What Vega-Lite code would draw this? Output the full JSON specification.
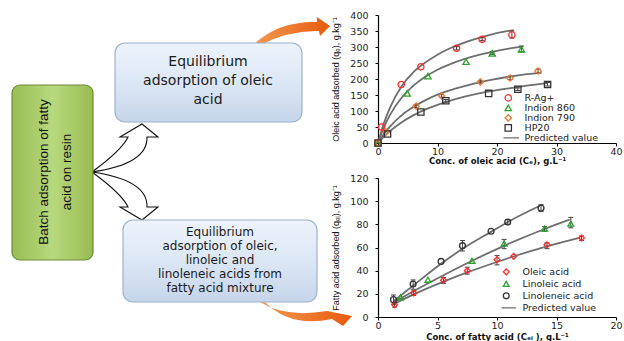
{
  "$schema": "https://vega.github.io/schema/vega-lite/v6.json",
  "background": "white",
  "padding": {"left": 0, "top": 10, "right": 0, "bottom": 0},
  "bounds": "flush",
  "spacing": 0,
  "config": {
    "view": {"stroke": null},
    "axis": {"domainColor": "#000", "domainWidth": 1.2, "tickColor": "#000", "tickSize": 3, "tickWidth": 1, "grid": false,
      "labelFont": "DejaVu Sans", "labelFontSize": 9.5, "labelColor": "#222", "labelOverlap": false,
      "titleFont": "DejaVu Sans", "titleFontSize": 8.5, "titleFontWeight": "bold", "titleColor": "#111"},
    "axisX": {"labelPadding": 0.5, "labelFlush": false},
    "axisY": {"labelPadding": 7, "titleFont": "Liberation Sans", "titleFontWeight": "normal", "titleFontSize": 9, "titlePadding": 9},
    "legend": {"labelFont": "DejaVu Sans", "labelFontSize": 9.5, "labelColor": "#222"}
  },
  "datasets": {
    "anchors": [
      {"kind": "up", "x": 253, "y": 45},
      {"kind": "down", "x": 260, "y": 302},
      {"kind": "fork", "x": 92, "y": 172}
    ],
    "boxes": [
      {"kind": "green", "x1": 12, "x2": 93, "y1": 85, "y2": 260},
      {"kind": "blue", "x1": 115, "x2": 302, "y1": 43, "y2": 122},
      {"kind": "blue", "x1": 123, "x2": 317, "y1": 220, "y2": 302}
    ],
    "texts": [
      {"id": "g", "t": "Batch adsorption of fatty\nacid on resin", "x": 44, "y": 172},
      {"id": "b1", "t": "Equilibrium\nadsorption of oleic\nacid", "x": 208, "y": 62},
      {"id": "b2", "t": "Equilibrium\nadsorption of oleic,\nlinoleic and\nlinoleneic acids from\nfatty acid mixture", "x": 220, "y": 232}
    ],
    "pts1": [
      {"s": "R-Ag+", "c": 0, "q": 0}, {"s": "R-Ag+", "c": 0.6, "q": 50}, {"s": "R-Ag+", "c": 3.9, "q": 183}, {"s": "R-Ag+", "c": 7.2, "q": 238}, {"s": "R-Ag+", "c": 13.2, "q": 296}, {"s": "R-Ag+", "c": 17.5, "q": 324}, {"s": "R-Ag+", "c": 22.5, "q": 338},
      {"s": "Indion 860", "c": 0, "q": 0}, {"s": "Indion 860", "c": 4.9, "q": 155}, {"s": "Indion 860", "c": 8.4, "q": 209}, {"s": "Indion 860", "c": 14.8, "q": 254}, {"s": "Indion 860", "c": 19.2, "q": 280}, {"s": "Indion 860", "c": 24.1, "q": 293},
      {"s": "Indion 790", "c": 0, "q": 0}, {"s": "Indion 790", "c": 1.3, "q": 34}, {"s": "Indion 790", "c": 6.4, "q": 115}, {"s": "Indion 790", "c": 10.7, "q": 147}, {"s": "Indion 790", "c": 17.2, "q": 191}, {"s": "Indion 790", "c": 22.2, "q": 203}, {"s": "Indion 790", "c": 26.9, "q": 225},
      {"s": "HP20", "c": 0, "q": 0}, {"s": "HP20", "c": 1.6, "q": 28}, {"s": "HP20", "c": 7.2, "q": 97}, {"s": "HP20", "c": 11.4, "q": 132}, {"s": "HP20", "c": 18.6, "q": 155}, {"s": "HP20", "c": 23.5, "q": 168}, {"s": "HP20", "c": 28.5, "q": 183}
    ],
    "lines1": [
      {"s": "R-Ag+", "c": 0, "q": 0}, {"s": "R-Ag+", "c": 1, "q": 62}, {"s": "R-Ag+", "c": 2, "q": 110}, {"s": "R-Ag+", "c": 4, "q": 178}, {"s": "R-Ag+", "c": 6, "q": 222}, {"s": "R-Ag+", "c": 8, "q": 252}, {"s": "R-Ag+", "c": 10, "q": 276}, {"s": "R-Ag+", "c": 13, "q": 303}, {"s": "R-Ag+", "c": 16, "q": 323}, {"s": "R-Ag+", "c": 19, "q": 339}, {"s": "R-Ag+", "c": 22.8, "q": 353},
      {"s": "Indion 860", "c": 0, "q": 0}, {"s": "Indion 860", "c": 1, "q": 49}, {"s": "Indion 860", "c": 2, "q": 87}, {"s": "Indion 860", "c": 4, "q": 142}, {"s": "Indion 860", "c": 6, "q": 180}, {"s": "Indion 860", "c": 8, "q": 208}, {"s": "Indion 860", "c": 10, "q": 229}, {"s": "Indion 860", "c": 13, "q": 253}, {"s": "Indion 860", "c": 16, "q": 271}, {"s": "Indion 860", "c": 19, "q": 284}, {"s": "Indion 860", "c": 22, "q": 295}, {"s": "Indion 860", "c": 24.4, "q": 302},
      {"s": "Indion 790", "c": 0, "q": 0}, {"s": "Indion 790", "c": 1, "q": 28}, {"s": "Indion 790", "c": 2, "q": 51}, {"s": "Indion 790", "c": 4, "q": 87}, {"s": "Indion 790", "c": 6, "q": 113}, {"s": "Indion 790", "c": 8, "q": 134}, {"s": "Indion 790", "c": 10, "q": 151}, {"s": "Indion 790", "c": 13, "q": 170}, {"s": "Indion 790", "c": 16, "q": 185}, {"s": "Indion 790", "c": 19, "q": 197}, {"s": "Indion 790", "c": 22, "q": 207}, {"s": "Indion 790", "c": 25, "q": 215}, {"s": "Indion 790", "c": 27.5, "q": 220},
      {"s": "HP20", "c": 0, "q": 0}, {"s": "HP20", "c": 1, "q": 20}, {"s": "HP20", "c": 2, "q": 37}, {"s": "HP20", "c": 4, "q": 65}, {"s": "HP20", "c": 6, "q": 87}, {"s": "HP20", "c": 8, "q": 105}, {"s": "HP20", "c": 10, "q": 119}, {"s": "HP20", "c": 13, "q": 137}, {"s": "HP20", "c": 16, "q": 151}, {"s": "HP20", "c": 19, "q": 162}, {"s": "HP20", "c": 22, "q": 171}, {"s": "HP20", "c": 25, "q": 179}, {"s": "HP20", "c": 28.5, "q": 187}
    ],
    "err1": [
      {"c": 22.5, "lo": 328, "hi": 350}, {"c": 13.2, "lo": 291, "hi": 301}, {"c": 17.5, "lo": 320, "hi": 329},
      {"c": 24.1, "lo": 285, "hi": 303}, {"c": 19.2, "lo": 276, "hi": 285},
      {"c": 26.9, "lo": 219, "hi": 231}, {"c": 22.2, "lo": 198, "hi": 208}, {"c": 17.2, "lo": 187, "hi": 195}, {"c": 10.7, "lo": 143, "hi": 152}, {"c": 6.4, "lo": 111, "hi": 120},
      {"c": 28.5, "lo": 178, "hi": 189}, {"c": 23.5, "lo": 164, "hi": 172}, {"c": 11.4, "lo": 128, "hi": 136}
    ],
    "pts2": [
      {"s": "Oleic acid", "c": 1.4, "q": 10.6}, {"s": "Oleic acid", "c": 3.0, "q": 20.7}, {"s": "Oleic acid", "c": 5.5, "q": 31.7}, {"s": "Oleic acid", "c": 7.5, "q": 40}, {"s": "Oleic acid", "c": 10.0, "q": 49.5}, {"s": "Oleic acid", "c": 11.4, "q": 52.4}, {"s": "Oleic acid", "c": 14.2, "q": 62.4}, {"s": "Oleic acid", "c": 17.1, "q": 68.2},
      {"s": "Linoleic acid", "c": 1.9, "q": 17}, {"s": "Linoleic acid", "c": 4.2, "q": 32.2}, {"s": "Linoleic acid", "c": 7.9, "q": 48.6}, {"s": "Linoleic acid", "c": 10.6, "q": 63.3}, {"s": "Linoleic acid", "c": 14.0, "q": 76.3}, {"s": "Linoleic acid", "c": 16.2, "q": 80.6},
      {"s": "Linoleneic acid", "c": 1.3, "q": 15}, {"s": "Linoleneic acid", "c": 2.95, "q": 28.5}, {"s": "Linoleneic acid", "c": 5.3, "q": 48}, {"s": "Linoleneic acid", "c": 7.1, "q": 61.6}, {"s": "Linoleneic acid", "c": 9.5, "q": 74}, {"s": "Linoleneic acid", "c": 10.9, "q": 82}, {"s": "Linoleneic acid", "c": 13.7, "q": 94}
    ],
    "lines2": [
      {"s": "Oleic acid", "c": 1.3, "q": 11}, {"s": "Oleic acid", "c": 3, "q": 19.5}, {"s": "Oleic acid", "c": 5.5, "q": 30.5}, {"s": "Oleic acid", "c": 7.5, "q": 38.5}, {"s": "Oleic acid", "c": 10, "q": 47.5}, {"s": "Oleic acid", "c": 11.3, "q": 52}, {"s": "Oleic acid", "c": 14.2, "q": 61}, {"s": "Oleic acid", "c": 17, "q": 68.5},
      {"s": "Linoleic acid", "c": 1.5, "q": 13.5}, {"s": "Linoleic acid", "c": 2, "q": 16.5}, {"s": "Linoleic acid", "c": 4.3, "q": 29.5}, {"s": "Linoleic acid", "c": 8, "q": 49}, {"s": "Linoleic acid", "c": 10.5, "q": 61}, {"s": "Linoleic acid", "c": 14, "q": 76}, {"s": "Linoleic acid", "c": 16.1, "q": 84},
      {"s": "Linoleneic acid", "c": 1.3, "q": 13.5}, {"s": "Linoleneic acid", "c": 3, "q": 27.5}, {"s": "Linoleneic acid", "c": 5.3, "q": 46}, {"s": "Linoleneic acid", "c": 7.2, "q": 59.5}, {"s": "Linoleneic acid", "c": 9.5, "q": 73.5}, {"s": "Linoleneic acid", "c": 11, "q": 82.5}, {"s": "Linoleneic acid", "c": 13.6, "q": 96}
    ],
    "err2": [
      {"c": 1.3, "lo": 11, "hi": 19}, {"c": 2.95, "lo": 24, "hi": 32}, {"c": 7.1, "lo": 57, "hi": 66}, {"c": 13.7, "lo": 91, "hi": 97}, {"c": 10.9, "lo": 80, "hi": 84},
      {"c": 10.6, "lo": 59, "hi": 67}, {"c": 16.2, "lo": 77, "hi": 86}, {"c": 14.0, "lo": 74, "hi": 78},
      {"c": 17.1, "lo": 66, "hi": 70}, {"c": 14.2, "lo": 59, "hi": 64}, {"c": 10.0, "lo": 45, "hi": 53}, {"c": 7.5, "lo": 37, "hi": 43}, {"c": 5.5, "lo": 29, "hi": 34}, {"c": 3.0, "lo": 18.5, "hi": 22.5}, {"c": 1.4, "lo": 8.5, "hi": 12.5}
    ]
  },
  "hconcat": [
    {
      "width": 378,
      "height": 326,
      "layer": [
        {
          "data": {"name": "anchors"},
          "transform": [{"filter": "datum.kind == 'up'"}],
          "mark": {"type": "point", "shape": "M0,0 Q25,-24 64,-23 L64,-28 L77,-19 L67,-9 L66,-14 Q37,-15 7,0 Z", "size": 4, "filled": true, "opacity": 1, "strokeWidth": 0,
            "fill": {"gradient": "linear", "x1": 0, "y1": 0, "x2": 1, "y2": 0, "stops": [{"offset": 0, "color": "#f39a55"}, {"offset": 1, "color": "#e85a0c"}]}},
          "encoding": {
            "x": {"field": "x", "type": "quantitative", "scale": {"domain": [0, 378], "nice": false, "zero": false}, "axis": null},
            "y": {"field": "y", "type": "quantitative", "scale": {"domain": [15, 341], "nice": false, "zero": false, "reverse": true}, "axis": null}
          }
        },
        {
          "data": {"name": "anchors"},
          "transform": [{"filter": "datum.kind == 'down'"}],
          "mark": {"type": "point", "shape": "M0,0 Q25,16 67,9 L92,14 L83,24 L72,17 Q30,26 5,0 Z", "size": 4, "filled": true, "opacity": 1, "strokeWidth": 0,
            "fill": {"gradient": "linear", "x1": 0, "y1": 0, "x2": 1, "y2": 0, "stops": [{"offset": 0, "color": "#f39a55"}, {"offset": 1, "color": "#e85a0c"}]}},
          "encoding": {
            "x": {"field": "x", "type": "quantitative"},
            "y": {"field": "y", "type": "quantitative"}
          }
        },
        {
          "data": {"name": "anchors"},
          "transform": [{"filter": "datum.kind == 'fork'"}],
          "mark": {"type": "point", "shape": "M0,0 Q30,-22 36,-35 L28,-35 L50,-48 L66,-35 L55,-35 Q56,-8 0,0 Z M0,0 Q30,22 36,35 L28,35 L50,48 L66,35 L55,35 Q56,8 0,0 Z", "size": 4, "filled": true, "opacity": 1, "fill": "white", "stroke": "#111", "strokeWidth": 1.1},
          "encoding": {
            "x": {"field": "x", "type": "quantitative"},
            "y": {"field": "y", "type": "quantitative"}
          }
        },
        {
          "data": {"name": "boxes"},
          "mark": {"type": "rect", "cornerRadius": 9, "xOffset": 2, "yOffset": 2.5, "color": "#8a8a8a", "opacity": 0.35},
          "encoding": {
            "x": {"field": "x1", "type": "quantitative"}, "x2": {"field": "x2"},
            "y": {"field": "y1", "type": "quantitative"}, "y2": {"field": "y2"}
          }
        },
        {
          "data": {"name": "boxes"},
          "transform": [{"filter": "datum.kind == 'green'"}],
          "mark": {"type": "rect", "cornerRadius": 8, "stroke": "#6c8c35", "strokeWidth": 1.2, "opacity": 1,
            "fill": {"gradient": "linear", "x1": 0, "y1": 0, "x2": 1, "y2": 0, "stops": [{"offset": 0, "color": "#98bd52"}, {"offset": 0.5, "color": "#b8d87e"}, {"offset": 1, "color": "#98bd52"}]}},
          "encoding": {
            "x": {"field": "x1", "type": "quantitative"}, "x2": {"field": "x2"},
            "y": {"field": "y1", "type": "quantitative"}, "y2": {"field": "y2"}
          }
        },
        {
          "data": {"name": "boxes"},
          "transform": [{"filter": "datum.kind == 'blue'"}],
          "mark": {"type": "rect", "cornerRadius": 10, "stroke": "#9db2cc", "strokeWidth": 1.2, "opacity": 1,
            "fill": {"gradient": "linear", "x1": 0, "y1": 0, "x2": 0, "y2": 1, "stops": [{"offset": 0, "color": "#edf3fb"}, {"offset": 0.5, "color": "#dce7f5"}, {"offset": 1, "color": "#c5d5ea"}]}},
          "encoding": {
            "x": {"field": "x1", "type": "quantitative"}, "x2": {"field": "x2"},
            "y": {"field": "y1", "type": "quantitative"}, "y2": {"field": "y2"}
          }
        },
        {
          "data": {"name": "texts"},
          "transform": [{"filter": "datum.id == 'g'"}],
          "mark": {"type": "text", "angle": 270, "align": "center", "baseline": "middle", "lineBreak": "\n", "lineHeight": 23, "font": "Liberation Sans", "fontSize": 13.5, "color": "#111"},
          "encoding": {
            "x": {"field": "x", "type": "quantitative"},
            "y": {"field": "y", "type": "quantitative"},
            "text": {"field": "t"}
          }
        },
        {
          "data": {"name": "texts"},
          "transform": [{"filter": "datum.id == 'b1'"}],
          "mark": {"type": "text", "align": "center", "baseline": "middle", "lineBreak": "\n", "lineHeight": 19, "font": "DejaVu Sans", "fontSize": 14, "color": "#1a1a1a"},
          "encoding": {
            "x": {"field": "x", "type": "quantitative"},
            "y": {"field": "y", "type": "quantitative"},
            "text": {"field": "t"}
          }
        },
        {
          "data": {"name": "texts"},
          "transform": [{"filter": "datum.id == 'b2'"}],
          "mark": {"type": "text", "align": "center", "baseline": "middle", "lineBreak": "\n", "lineHeight": 14, "font": "DejaVu Sans", "fontSize": 12, "color": "#1a1a1a"},
          "encoding": {
            "x": {"field": "x", "type": "quantitative"},
            "y": {"field": "y", "type": "quantitative"},
            "text": {"field": "t"}
          }
        }
      ]
    },
    {
      "bounds": "flush",
      "spacing": 35,
      "resolve": {"scale": {"color": "independent", "shape": "independent"}, "legend": {"color": "independent", "shape": "independent"}},
      "vconcat": [
        {
          "width": 238,
          "height": 128,
          "encoding": {
            "x": {"field": "c", "type": "quantitative", "scale": {"domain": [0, 40], "nice": false},
              "axis": {"values": [0, 10, 20, 30, 40], "labelOverlap": false, "title": "Conc. of oleic acid (Cₑ), g.L⁻¹", "titlePadding": 0}},
            "y": {"field": "q", "type": "quantitative", "scale": {"domain": [0, 400], "nice": false},
              "axis": {"values": [0, 50, 100, 150, 200, 250, 300, 350, 400], "labelOverlap": false, "title": "Oleic acid adsorbed (qₑ), g.kg⁻¹"}}
          },
          "layer": [
            {
              "data": {"name": "lines1"},
              "mark": {"type": "line", "color": "#6e6e6e", "strokeWidth": 1.8, "interpolate": "monotone"},
              "encoding": {"detail": {"field": "s"}}
            },
            {
              "data": {"name": "err1"},
              "mark": {"type": "rule", "color": "#444", "strokeWidth": 1},
              "encoding": {"y": {"field": "lo", "type": "quantitative"}, "y2": {"field": "hi"}}
            },
            {
              "data": {"name": "err1"},
              "mark": {"type": "tick", "orient": "horizontal", "color": "#444", "size": 5, "thickness": 1, "opacity": 1},
              "encoding": {"y": {"field": "lo", "type": "quantitative"}}
            },
            {
              "data": {"name": "err1"},
              "mark": {"type": "tick", "orient": "horizontal", "color": "#444", "size": 5, "thickness": 1, "opacity": 1},
              "encoding": {"y": {"field": "hi", "type": "quantitative"}}
            },
            {
              "data": {"name": "pts1"},
              "mark": {"type": "point", "filled": false, "opacity": 1, "strokeWidth": 1.3, "size": 40},
              "encoding": {
                "color": {"field": "s", "type": "nominal",
                  "scale": {"domain": ["R-Ag+", "Indion 860", "Indion 790", "HP20", "Predicted value"], "range": ["#ff2a2a", "#2ca02c", "#f07a30", "#333333", "#6e6e6e"]},
                  "legend": {"orient": "none", "legendX": 125.5, "legendY": 78, "title": null, "padding": 0, "rowPadding": -1.3, "clipHeight": 9.75, "labelOffset": 11.5, "symbolStrokeWidth": 1.3, "symbolSize": 40}},
                "shape": {"field": "s", "type": "nominal",
                  "scale": {"domain": ["R-Ag+", "Indion 860", "Indion 790", "HP20", "Predicted value"], "range": ["circle", "triangle-up", "diamond", "square", "M-3.4,0L3.4,0"]},
                  "legend": {"orient": "none", "legendX": 125.5, "legendY": 78, "title": null, "padding": 0, "rowPadding": -1.3, "clipHeight": 9.75, "labelOffset": 11.5, "symbolStrokeWidth": 1.3, "symbolSize": 40}}
              }
            }
          ]
        },
        {
          "width": 238,
          "height": 139,
          "encoding": {
            "x": {"field": "c", "type": "quantitative", "scale": {"domain": [0, 20], "nice": false},
              "axis": {"values": [0, 5, 10, 15, 20], "labelOverlap": false, "title": "Conc. of fatty acid (Cₑᵢ ), g.L⁻¹", "titlePadding": 2}},
            "y": {"field": "q", "type": "quantitative", "scale": {"domain": [0, 120], "nice": false},
              "axis": {"values": [0, 20, 40, 60, 80, 100, 120], "labelOverlap": false, "title": "Fatty acid adsorbed (qₑᵢ), g.kg⁻¹"}}
          },
          "layer": [
            {
              "data": {"name": "lines2"},
              "mark": {"type": "line", "color": "#6e6e6e", "strokeWidth": 1.8, "interpolate": "monotone"},
              "encoding": {"detail": {"field": "s"}}
            },
            {
              "data": {"name": "err2"},
              "mark": {"type": "rule", "color": "#444", "strokeWidth": 1},
              "encoding": {"y": {"field": "lo", "type": "quantitative"}, "y2": {"field": "hi"}}
            },
            {
              "data": {"name": "err2"},
              "mark": {"type": "tick", "orient": "horizontal", "color": "#444", "size": 5, "thickness": 1, "opacity": 1},
              "encoding": {"y": {"field": "lo", "type": "quantitative"}}
            },
            {
              "data": {"name": "err2"},
              "mark": {"type": "tick", "orient": "horizontal", "color": "#444", "size": 5, "thickness": 1, "opacity": 1},
              "encoding": {"y": {"field": "hi", "type": "quantitative"}}
            },
            {
              "data": {"name": "pts2"},
              "mark": {"type": "point", "filled": false, "opacity": 1, "strokeWidth": 1.3, "size": 34},
              "encoding": {
                "color": {"field": "s", "type": "nominal",
                  "scale": {"domain": ["Oleic acid", "Linoleic acid", "Linoleneic acid", "Predicted value"], "range": ["#ff2a2a", "#2ca02c", "#333333", "#6e6e6e"]},
                  "legend": {"orient": "none", "legendX": 123.5, "legendY": 88, "title": null, "padding": 0, "rowPadding": -1.3, "clipHeight": 11.7, "labelOffset": 11.5, "symbolStrokeWidth": 1.3, "symbolSize": 34}},
                "shape": {"field": "s", "type": "nominal",
                  "scale": {"domain": ["Oleic acid", "Linoleic acid", "Linoleneic acid", "Predicted value"], "range": ["diamond", "triangle-up", "circle", "M-3.4,0L3.4,0"]},
                  "legend": {"orient": "none", "legendX": 123.5, "legendY": 88, "title": null, "padding": 0, "rowPadding": -1.3, "clipHeight": 11.7, "labelOffset": 11.5, "symbolStrokeWidth": 1.3, "symbolSize": 34}}
              }
            }
          ]
        }
      ]
    }
  ]
}
